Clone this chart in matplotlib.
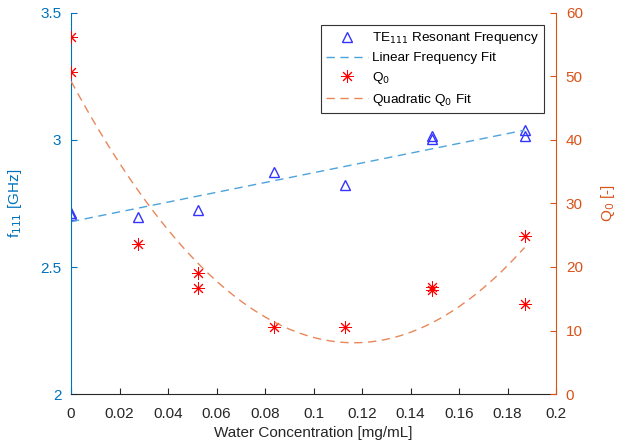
import numpy as np
import matplotlib
matplotlib.use('Agg')
import matplotlib.pyplot as plt

plt.rcParams['font.family'] = ['Liberation Sans', 'DejaVu Sans']

# frequency measurements
conc_f = [0.0, 0.0, 0.0276, 0.0524, 0.0837, 0.113, 0.149, 0.149, 0.187, 0.187]
freq = [2.713, 2.705, 2.697, 2.724, 2.874, 2.823, 3.016, 3.005, 3.039, 3.016]

# quality factor measurements
conc_q = [0.0, 0.0, 0.0276, 0.0524, 0.0524, 0.0837, 0.113, 0.149, 0.149, 0.187, 0.187]
q0 = [56.2, 50.7, 23.6, 19.0, 16.7, 10.6, 10.6, 16.9, 16.4, 24.9, 14.2]

blue_ax = '#0072BD'
orange_ax = '#D95319'

lin = np.polyfit(conc_f, freq, 1)
quad = np.polyfit(conc_q, q0, 2)
xfit = np.linspace(0, 0.187, 200)

fig = plt.figure(figsize=(6.29, 4.45), dpi=100)
ax = fig.add_axes([0.1129, 0.1146, 0.7711, 0.8562])
ax2 = ax.twinx()

h1, = ax.plot(conc_f, freq, '^', mfc='none', mec='#3333FF', ms=7, mew=1,
              label='TE$_{111}$ Resonant Frequency')
h2, = ax.plot(xfit, np.polyval(lin, xfit), '--', color='#4DA3DB', lw=1,
              dashes=(6, 4), label='Linear Frequency Fit')
h3, = ax2.plot(conc_q, q0, ls='none', marker=(8, 2, 0), color='red', ms=9,
               mew=0.7, label='Q$_0$')
h4, = ax2.plot(xfit, np.polyval(quad, xfit), '--', color='#E8875A', lw=1,
               dashes=(6, 4), label='Quadratic Q$_0$ Fit')

ax.set_xlim(0, 0.2)
ax.set_ylim(2, 3.5)
ax2.set_ylim(0, 60)
ax.set_xticks(np.arange(0, 0.201, 0.02))
ax.set_xticklabels(['0', '0.02', '0.04', '0.06', '0.08', '0.1', '0.12',
                    '0.14', '0.16', '0.18', '0.2'])
ax.set_yticks([2, 2.5, 3, 3.5])
ax.set_yticklabels(['2', '2.5', '3', '3.5'])
ax2.set_yticks(range(0, 61, 10))

for a in (ax, ax2):
    a.spines['top'].set_visible(False)
ax.spines['right'].set_visible(False)
ax.spines['left'].set_color(blue_ax)
ax2.spines['left'].set_visible(False)
ax2.spines['right'].set_color(orange_ax)
ax.spines['bottom'].set_color('#262626')
ax2.spines['bottom'].set_visible(False)

ax.tick_params(axis='x', direction='in', colors='#262626', labelsize=11,
               length=4, pad=9)
ax.tick_params(axis='y', direction='in', colors=blue_ax, labelsize=11,
               length=4, pad=7)
ax2.tick_params(axis='y', direction='in', colors=orange_ax, labelsize=11,
                length=4, pad=7)

ax.set_xlabel('Water Concentration [mg/mL]', fontsize=11, color='#262626',
              labelpad=4)
ax.set_ylabel('f$_{111}$ [GHz]', fontsize=11, color=blue_ax, labelpad=12)
ax2.set_ylabel('Q$_0$ [-]', fontsize=11, color=orange_ax, rotation=90,
               labelpad=12)

leg = ax2.legend(handles=[h1, h2, h3, h4], loc='upper right',
                 bbox_to_anchor=(0.975, 0.9685), borderaxespad=0,
                 fontsize=9.7, fancybox=False, framealpha=1,
                 edgecolor='#333333', borderpad=0.4, labelspacing=0.42,
                 handlelength=3.1, handletextpad=0.3)
leg.get_frame().set_linewidth(0.8)

fig.savefig('out.png', dpi=100)
